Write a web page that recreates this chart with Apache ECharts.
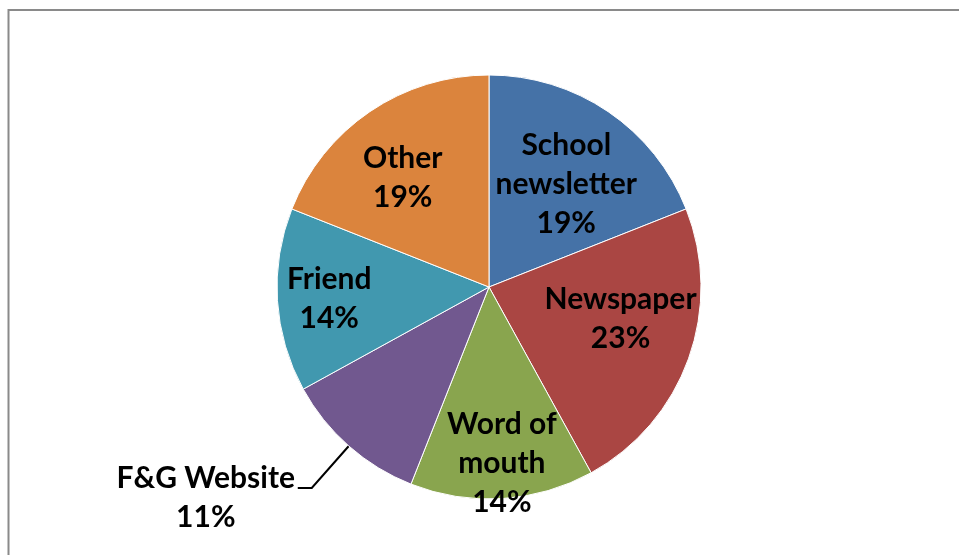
<!DOCTYPE html>
<html>
<head>
<meta charset="utf-8">
<script src="https://cdn.jsdelivr.net/npm/echarts@6/dist/echarts.min.js"></script>
<style>
html,body{margin:0;padding:0;background:#fff;}
#chart{width:959px;height:555px;}
</style>
</head>
<body>
<div id="chart"></div>
<script>
const categories = ['School newsletter', 'Newspaper', 'Word of mouth', 'F&G Website', 'Friend', 'Other'];
const labelLines = ['School\nnewsletter', 'Newspaper', 'Word of\nmouth', 'F&G Website', 'Friend', 'Other'];
const values = [19, 23, 14, 11, 14, 19];
const colors = ['#4572A7', '#AA4643', '#89A54E', '#71588F', '#4198AF', '#DB843D'];

// label nudges (style only), relative to ECharts' inside label positions
const labelNudge = [[16, -13], [29, -5], [6, 68], [0, 0], [-51, 5], [-25, -19]];

const FONT = 'Lato, "Carlito", "Noto Sans", sans-serif';
const FS = 30;
const LH = 39;

const chart = echarts.init(document.getElementById('chart'), null, {renderer: 'canvas'});

const data = categories.map((c, i) => {
  const item = {name: c, value: values[i], itemStyle: {color: colors[i]}};
  if (i === 3) {
    item.label = {
      show: true,
      position: 'outside',
      padding: [20, 0, 0, 0],
      formatter: p => '{n|' + labelLines[i] + '}\n{n|' + Math.round(p.percent) + '%}',
      rich: {
        n: {width: 174, align: 'center', fontFamily: FONT, fontSize: FS, fontWeight: 'bold', color: '#000', lineHeight: LH}
      }
    };
    item.labelLine = {show: true, length: 56, length2: 14, smooth: false, lineStyle: {color: '#000', width: 2}};
  }
  return item;
});

chart.setOption({
  backgroundColor: '#fff',
  animation: false,
  graphic: [{
    type: 'rect',
    shape: {x: 8.5, y: 10, width: 1000, height: 600},
    style: {fill: 'none', stroke: '#8a8a8a', lineWidth: 2},
    silent: true
  }],
  series: [{
    type: 'pie',
    center: [489, 287],
    radius: [0, 212],
    startAngle: 90,
    clockwise: true,
    avoidLabelOverlap: false,
    itemStyle: {borderColor: '#fff', borderWidth: 1},
    label: {
      show: true,
      position: 'inside',
      fontFamily: FONT,
      fontSize: FS,
      fontWeight: 'bold',
      color: '#000',
      lineHeight: LH,
      align: 'center',
      formatter: p => labelLines[p.dataIndex] + '\n' + Math.round(p.percent) + '%'
    },
    labelLine: {show: false},
    labelLayout: function (params) {
      const n = labelNudge[params.dataIndex];
      if (params.dataIndex === 3) return {};
      return {dx: n[0], dy: n[1]};
    },
    emphasis: {disabled: true},
    data: data
  }]
});
</script>
</body>
</html>
